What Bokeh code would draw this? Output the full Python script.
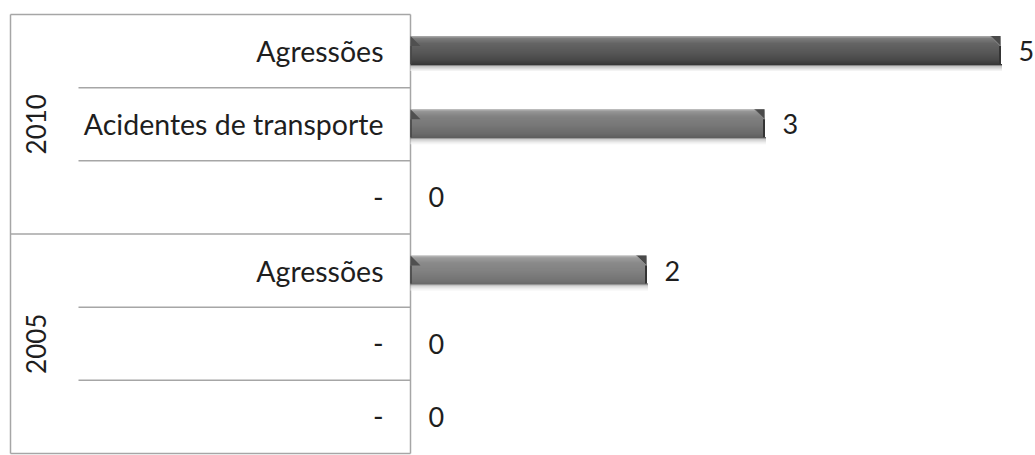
import numpy as np
from bokeh.plotting import figure
from bokeh.models import Range1d
from bokeh.core.properties import value
from bokeh.embed import file_html
from bokeh.resources import INLINE

# Rows are listed top to bottom; each belongs to a year group
years = ["2010", "2005"]
year_rows = [3, 3]
causes = ["Agressões", "Acidentes de transporte", "-", "Agressões", "-", "-"]
counts = [5, 3, 0, 2, 0, 0]

W, H = 1035, 455
PX_PER_UNIT = 118.0          # horizontal scale of the value axis
AXIS_X = 410                 # pixel position of the value axis (x = 0)
TOP, BOTTOM = 14, 453        # table top / bottom edges in pixels
n_rows = len(causes)
ROW_PX = (BOTTOM - TOP) / n_rows

x_start = -AXIS_X / PX_PER_UNIT
x_end = (W - AXIS_X) / PX_PER_UNIT
y_top = -TOP / ROW_PX
y_bottom = n_rows + (H - BOTTOM) / ROW_PX

p = figure(width=W, height=H, x_range=Range1d(x_start, x_end),
           y_range=Range1d(y_bottom, y_top),
           x_axis_location=None, y_axis_location=None,
           output_backend="svg", toolbar_location=None, min_border=0)
p.xgrid.visible = False
p.ygrid.visible = False
p.outline_line_color = None
p.background_fill_color = "white"
p.border_fill_color = "white"

FONT = value("Lato")
TEXT_COLOR = "#1e1e1e"
LINE_COLOR = "#a6a6a6"
px_y = 1.0 / ROW_PX
px_x = 1.0 / PX_PER_UNIT

# ---- table on the left: frame, row separators and group separators ----
left_x = (10 - AXIS_X) * px_x
inner_x = (78 - AXIS_X) * px_x
p.segment(x0=[left_x, left_x, left_x, 0], y0=[0, n_rows, 0, 0],
          x1=[0, 0, left_x, 0], y1=[0, n_rows, n_rows, n_rows],
          line_color=LINE_COLOR, line_width=1.5)
group_edges = np.cumsum(year_rows)[:-1]
inner = [r for r in range(1, n_rows) if r not in group_edges]
p.segment(x0=[inner_x] * len(inner), y0=inner, x1=[0] * len(inner), y1=inner,
          line_color=LINE_COLOR, line_width=1.5)
p.segment(x0=[left_x] * len(group_edges), y0=group_edges,
          x1=[0] * len(group_edges), y1=group_edges,
          line_color=LINE_COLOR, line_width=1.5)

centers = np.arange(n_rows) + 0.5

# category labels
p.text(x=[0] * n_rows, y=centers, text=causes, x_offset=-27,
       text_align="right", text_baseline="middle",
       text_font=FONT, text_font_size="28.5px", text_color=TEXT_COLOR)

# year labels, rotated
starts = np.concatenate([[0], np.cumsum(year_rows)[:-1]])
year_centers = starts + np.array(year_rows) / 2.0
p.text(x=[left_x] * len(years), y=year_centers, text=years, x_offset=25,
       angle=np.pi / 2, text_align="center", text_baseline="middle",
       text_font=FONT, text_font_size="26px", text_color=TEXT_COLOR)

# ---- bars with a shaded, cylinder-like look ----
def lerp(c0, c1, t):
    a = np.array([int(c0[i:i + 2], 16) for i in (1, 3, 5)], float)
    b = np.array([int(c1[i:i + 2], 16) for i in (1, 3, 5)], float)
    c = a + (b - a) * t
    return "#%02x%02x%02x" % tuple(int(round(v)) for v in c)

# colour stops from the top edge of the bar down to the bottom of its shadow
stops = [(0, "#a4a4a4"), (2, "#7c7c7c"), (7, "#646464"), (16, "#575757"),
         (24, "#474747"), (28, "#383838"), (29, "#8c8c8c"), (30, "#c4c4c4"),
         (33, "#ebebeb"), (35, "#fbfbfb")]
BAR_TOP = -15   # pixels relative to the row centre
BAR_PX = 28
stripe_colors = []
for k in range(stops[-1][0]):
    for (a, ca), (b, cb) in zip(stops[:-1], stops[1:]):
        if a <= k < b:
            stripe_colors.append(lerp(ca, cb, (k - a) / (b - a)))
            break

bar_rows = [i for i in range(n_rows) if counts[i] > 0]
xs, ys, cols = [], [], []
for i in bar_rows:
    for k, c in enumerate(stripe_colors):
        xs.append(counts[i] + (1.5 * px_x if k >= BAR_PX else 0))
        ys.append(centers[i] + (BAR_TOP + k + 0.5) * px_y)
        cols.append(c)
p.hbar(y=ys, left=0, right=xs, height=px_y * 1.05, fill_color=cols,
       line_color=None)

# bevelled ends
bev = 10
bev_w, bev_h = bev * px_x, bev * px_y
lx, ly, rx, ry = [], [], [], []
for i in bar_rows:
    top = centers[i] + BAR_TOP * px_y
    v = counts[i]
    lx.append([0, bev_w, bev_w, 0])
    ly.append([top, top + bev_h, top + bev_h, top + bev_h])
    rx.append([v - bev_w, v, v]); ry.append([top, top, top + bev_h])
p.patches(xs=lx, ys=ly, fill_color="#505050", line_color=None)
p.patches(xs=rx, ys=ry, fill_color="#4a4a4a", line_color=None)
# light rim on the right-hand bevel
p.segment(x0=[counts[i] - bev_w for i in bar_rows],
          y0=[centers[i] + BAR_TOP * px_y for i in bar_rows],
          x1=[counts[i] for i in bar_rows],
          y1=[centers[i] + (BAR_TOP + bev) * px_y for i in bar_rows],
          line_color="#8a8a8a", line_width=1)
# darker faces at both ends
p.segment(x0=[counts[i] - 0.5 * px_x for i in bar_rows],
          y0=[centers[i] + (BAR_TOP + bev) * px_y for i in bar_rows],
          x1=[counts[i] - 0.5 * px_x for i in bar_rows],
          y1=[centers[i] + (BAR_TOP + BAR_PX) * px_y for i in bar_rows],
          line_color="#343434", line_width=2)
p.segment(x0=[0.5 * px_x for i in bar_rows],
          y0=[centers[i] + (BAR_TOP + bev) * px_y for i in bar_rows],
          x1=[0.5 * px_x for i in bar_rows],
          y1=[centers[i] + (BAR_TOP + BAR_PX) * px_y for i in bar_rows],
          line_color="#444444", line_width=1.5)

# value labels
p.text(x=counts, y=centers, text=[str(c) for c in counts], x_offset=18,
       text_align="left", text_baseline="middle",
       text_font=FONT, text_font_size="27px", text_color=TEXT_COLOR)

open("out.html", "w").write(file_html(p, INLINE))
